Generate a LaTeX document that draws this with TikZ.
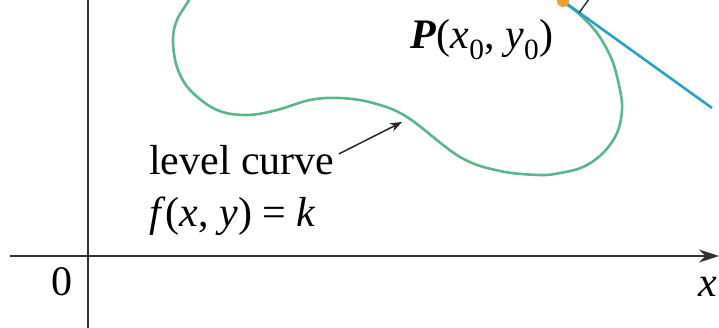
\documentclass[tikz,border=0pt]{standalone}
\usepackage{fontspec}
\setmainfont{Liberation Serif}
\usetikzlibrary{positioning,arrows.meta,calc}
\definecolor{curvegreen}{RGB}{92,182,140}
\definecolor{tanblue}{RGB}{40,160,200}
\definecolor{ptorange}{RGB}{240,160,50}
\begin{document}
\begin{tikzpicture}[x=1pt, y=1pt,
  lbl/.style={font=\fontsize{42}{48}\selectfont, inner sep=0pt},
  axis/.style={line width=2pt, draw=black!80}]
\useasboundingbox (0,0) rectangle (719,328);
\clip (0,0) rectangle (719,328);
% axes
\coordinate (ybot) at (88,0);
\coordinate (ytop) at (88,328);
\coordinate (xleft) at (10,72);
\coordinate (xright) at (719,72);
\draw[axis] (ybot) -- (ytop);
\draw[axis, -{Stealth[length=20pt, width=13pt]}] (xleft) -- (xright);
\node[lbl] (zero) at (62,46) {0};
\node[lbl] (xlab) at (708,41) {\textit{x}};
% level curve
\draw[curvegreen, line width=2.6pt] plot[smooth, tension=0.6] coordinates {
  (197,345) (189,328) (177,308) (173,288) (177,261) (190,238) (217,218)
  (247,213) (277,218) (310,228) (340,230) (373,225) (407,211) (460,171)
  (500,157) (540,153) (560,155) (583,161) (603,175) (617,195) (622,218)
  (620,238) (612,268) (597,295) (578,315) (563,326) (545,339)};
% tangent line and point
\coordinate (P) at (563,327);
\coordinate (tanend) at (712,220);
\coordinate (foot) at ($(P)!20pt!(tanend)$);
\draw[tanblue, line width=2.6pt] (P) -- (tanend);
\draw[black!80, line width=1.5pt] (foot) -- ++(10,14);
\fill[ptorange] (P) circle (6pt);
% labels
\node[lbl] (plab) at (482,288) {\textbf{\textit{P}}(\textit{x}\textsubscript{0}, \textit{y}\textsubscript{0})};
\node[lbl, anchor=west] (lvl) at (149,168) {level curve};
\node[lbl, anchor=west] (eq) at (149,112) {\textit{f}(\textit{x}, \textit{y}) = \textit{k}};
\coordinate (oncurve) at (402,206);
\draw[black!85, line width=1.5pt, -{Stealth[length=12pt, width=9pt]}] (lvl.east) ++(4,6) -- (oncurve);
\end{tikzpicture}
\end{document}
